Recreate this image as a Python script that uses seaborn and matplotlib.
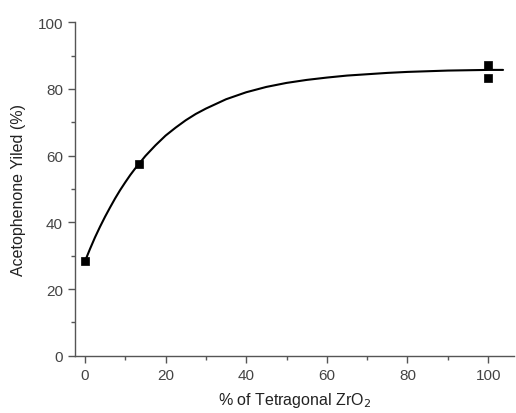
import numpy as np
import pandas as pd
import matplotlib.pyplot as plt
import seaborn as sns

# measured points
tetragonal = [0, 13.3, 100, 100]
yield_pct = [28.3, 57.5, 87.3, 83.3]

# fitted curve
curve_x = [0, 1.25, 2.5, 3.75, 5, 6.25, 7.5, 8.75, 10, 11.25, 12.5, 15, 17.5,
           20, 22.5, 25, 27.5, 30, 35, 40, 45, 50, 55, 60, 65, 70, 75, 80,
           85, 90, 95, 100, 103.7]
curve_y = [28.3, 32.0, 35.5, 38.7, 41.7, 44.5, 47.2, 49.7, 52.0, 54.2, 56.2,
           59.9, 63.1, 66.0, 68.4, 70.6, 72.5, 74.1, 76.9, 79.0, 80.6, 81.8,
           82.7, 83.4, 84.0, 84.4, 84.8, 85.1, 85.3, 85.5, 85.6, 85.7, 85.7]

pts = pd.DataFrame({'x': tetragonal, 'y': yield_pct})
fit = pd.DataFrame({'x': curve_x, 'y': curve_y})

sns.set_style('ticks')
plt.rcParams['font.family'] = ['Liberation Sans', 'DejaVu Sans']

fig = plt.figure(figsize=(5.16, 4.14), dpi=100)
ax = fig.add_axes([0.145, 0.138, 0.851, 0.806])

sns.lineplot(data=fit, x='x', y='y', color='black', lw=1.5, ax=ax)
sns.scatterplot(data=pts, x='x', y='y', marker='s', color='black', s=40,
                edgecolor='black', zorder=3, ax=ax)

ax.set_xlim(-2.5, 106.4)
ax.set_ylim(0, 100)
ax.set_xticks([0, 20, 40, 60, 80, 100])
ax.set_xticks([10, 30, 50, 70, 90], minor=True)
ax.set_yticks([0, 20, 40, 60, 80, 100])
ax.set_yticks([10, 30, 50, 70, 90], minor=True)

for s in ['top', 'right']:
    ax.spines[s].set_visible(False)
for s in ['left', 'bottom']:
    ax.spines[s].set_color('#555555')
    ax.spines[s].set_linewidth(1.0)

ax.tick_params(which='major', length=5, width=1, color='#555555',
               labelsize=11, labelcolor='#444444')
ax.tick_params(which='minor', length=3, width=1, color='#555555')

ax.set_xlabel('% of Tetragonal ZrO$_2$', fontsize=11.5, color='#222222', labelpad=6)
ax.set_ylabel('Acetophenone Yiled (%)', fontsize=11.5, color='#222222', labelpad=8)

fig.savefig('out.png', dpi=100)
